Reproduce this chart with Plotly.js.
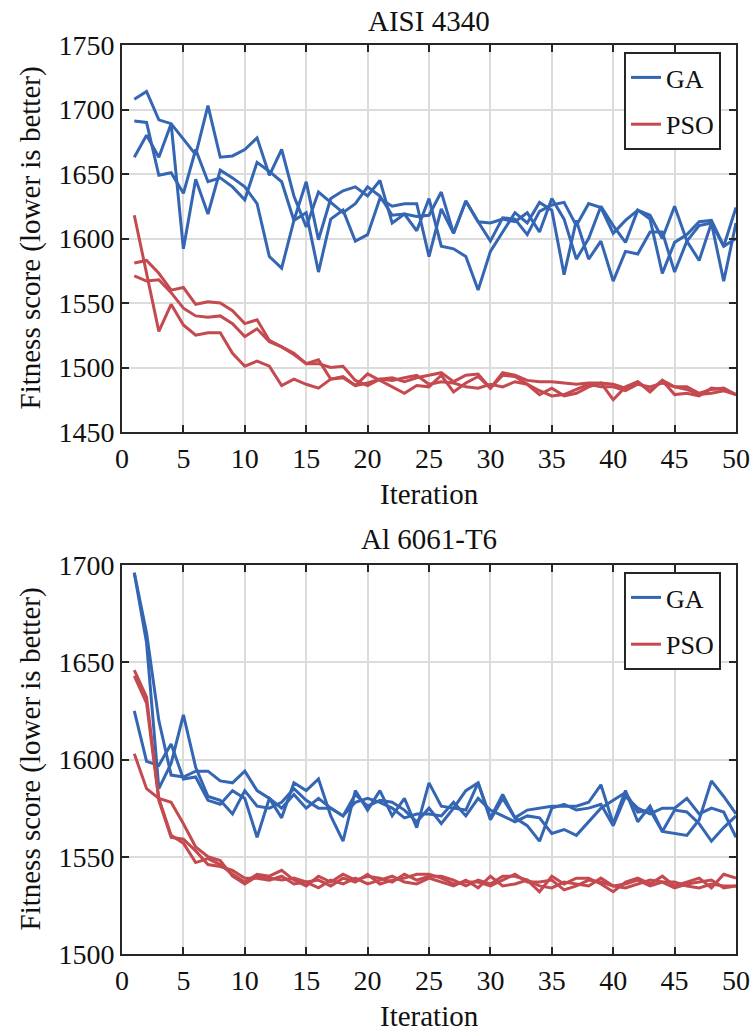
<!DOCTYPE html>
<html>
<head>
<meta charset="utf-8">
<script src="https://cdn.plot.ly/plotly-3.0.1.min.js"></script>
<style>
.modebar-container, .modebar { display: none !important; }
</style>
</head>
<body style="margin:0;background:#ffffff">
<div id="top" style="width:755px;height:518px"></div>
<div id="bottom" style="width:755px;height:517px"></div>
<script>
// ---------------- data ----------------
const iterations = Array.from({length: 50}, (_, k) => k + 1);

const titleTop = 'AISI 4340';
const titleBottom = 'Al 6061-T6';
const xLabel = 'Iteration';
const yLabel = 'Fitness score (lower is better)';
const seriesNames = ['GA', 'PSO'];

// AISI 4340, GA runs
const ga4340_run1 = [1708,1714,1692,1689,1677,1665,1703,1663,1664,1669,1678,1649,1669,1633,1609,1636,1628,1620,1627,1640,1633,1618,1619,1617,
  1618,1636,1604,1629,1613,1598,1616,1615,1603,1621,1626,1628,1610,1627,1624,1604,1614,1622,1618,1600,1625,1598,1610,1612,1594,1624];
const ga4340_run2 = [1691,1690,1649,1651,1635,1669,1644,1647,1640,1630,1659,1652,1644,1614,1644,1599,1631,1637,1640,1633,1645,1612,1619,1606,
  1631,1594,1592,1586,1560,1590,1605,1620,1612,1628,1622,1572,1614,1584,1598,1567,1590,1588,1605,1605,1574,1598,1583,1612,1567,1612];
const ga4340_run3 = [1663,1680,1663,1689,1592,1646,1619,1653,1647,1640,1627,1586,1577,1614,1620,1574,1615,1622,1598,1603,1631,1625,1627,1627,
  1586,1623,1604,1629,1613,1612,1615,1613,1620,1605,1631,1615,1584,1600,1625,1610,1597,1622,1615,1573,1597,1603,1613,1614,1594,1600];

// AISI 4340, PSO runs
const pso4340_run1 = [1618,1573,1528,1549,1533,1525,1527,1527,1511,1501,1505,1501,1486,1491,1487,1484,1491,1493,1486,1495,1490,1485,1480,1486,
  1485,1494,1481,1488,1493,1484,1494,1493,1487,1479,1484,1478,1480,1485,1488,1475,1485,1489,1481,1490,1479,1480,1478,1484,1483,1479];
const pso4340_run2 = [1581,1583,1573,1560,1562,1549,1551,1550,1544,1534,1537,1521,1516,1511,1503,1506,1491,1492,1486,1488,1491,1492,1489,1492,
  1494,1496,1489,1494,1495,1484,1496,1494,1490,1489,1489,1488,1487,1488,1488,1487,1484,1489,1482,1490,1485,1485,1480,1483,1484,1479];
const pso4340_run3 = [1571,1567,1568,1558,1546,1540,1539,1540,1534,1524,1530,1520,1516,1510,1503,1503,1500,1501,1490,1486,1491,1490,1492,1494,
  1487,1489,1488,1485,1484,1487,1485,1489,1487,1482,1478,1479,1483,1487,1485,1485,1482,1487,1485,1488,1485,1483,1479,1480,1482,1479];

// Al 6061-T6, GA runs
const ga6061_run1 = [1696,1665,1620,1592,1591,1594,1594,1589,1588,1594,1584,1580,1570,1588,1584,1590,1571,1558,1584,1574,1584,1571,1580,1565,
  1588,1576,1575,1574,1588,1570,1582,1570,1574,1575,1576,1576,1576,1578,1587,1567,1584,1568,1576,1563,1562,1561,1569,1589,1581,1572];
const ga6061_run2 = [1696,1660,1585,1598,1623,1596,1581,1579,1572,1584,1576,1575,1578,1585,1579,1575,1575,1571,1582,1576,1579,1578,1574,1568,
  1575,1567,1575,1584,1588,1569,1580,1570,1566,1558,1575,1577,1574,1575,1577,1566,1581,1575,1572,1575,1575,1580,1572,1575,1573,1560];
const ga6061_run3 = [1625,1599,1597,1608,1590,1591,1579,1577,1584,1580,1560,1580,1575,1582,1575,1580,1575,1571,1578,1580,1578,1575,1570,1572,
  1572,1571,1578,1571,1580,1574,1571,1568,1571,1570,1562,1564,1561,1568,1575,1579,1583,1573,1574,1563,1574,1573,1567,1558,1565,1571];

// Al 6061-T6, PSO runs
const pso6061_run1 = [1646,1632,1580,1561,1557,1547,1549,1546,1541,1537,1541,1540,
  1543,1538,1535,1540,1537,1541,1538,1540,1539,1537,1541,1538,1540,1540,1538,1535,1538,1536,1540,1540,1538,1532,1540,1536,1539,1539,1536,1532,1537,1539,1536,1540,1535,1537,1539,1534,1541,1539];
const pso6061_run2 = [1643,1629,1579,1560,1559,1553,1546,1545,1543,1539,1539,1538,
  1540,1536,1537,1534,1538,1536,1539,1536,1538,1540,1537,1536,1539,1537,1535,1538,1534,1540,1535,1536,1538,1535,1534,1537,1536,1535,1539,1535,1536,1538,1535,1537,1537,1535,1534,1536,1535,1535];
const pso6061_run3 = [1603,1585,1580,1578,1567,1555,1550,1548,1540,1536,1540,1539,
  1538,1539,1537,1538,1535,1539,1537,1541,1536,1538,1539,1541,1541,1539,1536,1537,1537,1535,1538,1541,1537,1537,1538,1533,1535,1538,1537,1535,1534,1536,1538,1537,1534,1536,1537,1538,1534,1535];

const xTicks = [0,5,10,15,20,25,30,35,40,45,50];
const yTicksTop = [1450,1500,1550,1600,1650,1700,1750];
const yTicksBottom = [1500,1550,1600,1650,1700];

// ---------------- styling ----------------
const BLUE = '#3466b3';
const RED = '#c44a50';
const AX = '#262626';
const TXT = '#111111';

function mkTrace(y, color, name, show) {
  return {
    x: iterations, y: y, type: 'scatter', mode: 'lines',
    line: {color: color, width: 3},
    name: name, legendgroup: name, showlegend: show
  };
}

function mkLayout(h, t, b, yRange, yTicks, title, legendTopPx) {
  const plotH = h - t - b;
  const plotW = 755 - 122 - 19;
  const tickFont = {family: 'Liberation Serif', size: 28, color: TXT};
  const labFont = {family: 'Liberation Serif', size: 29, color: TXT};
  return {
    width: 755, height: h,
    font: {family: 'Liberation Serif', size: 28, color: TXT},
    margin: {l: 122, r: 19, t: t, b: b, pad: 0},
    paper_bgcolor: '#ffffff', plot_bgcolor: '#ffffff',
    showlegend: true,
    xaxis: {
      range: [0, 50], tickvals: xTicks,
      ticks: 'inside', ticklen: 7, tickwidth: 2, tickcolor: AX,
      showline: true, linewidth: 2, linecolor: AX, mirror: 'allticks',
      showgrid: true, gridcolor: '#dcdcdc', gridwidth: 2, zeroline: false,
      tickfont: tickFont
    },
    yaxis: {
      range: yRange, tickvals: yTicks,
      ticks: 'inside', ticklen: 7, tickwidth: 2, tickcolor: AX,
      showline: true, linewidth: 2, linecolor: AX, mirror: 'allticks',
      showgrid: true, gridcolor: '#dcdcdc', gridwidth: 2, zeroline: false,
      tickfont: tickFont
    },
    legend: {
      x: (721 - 122) / plotW, y: (plotH - (legendTopPx - t)) / plotH,
      xanchor: 'right', yanchor: 'top',
      bgcolor: '#ffffff', bordercolor: AX, borderwidth: 2,
      font: {family: 'Liberation Serif', size: 26, color: TXT}
    },
    annotations: [
      {text: title, xref: 'paper', yref: 'paper', x: 0.5, y: (plotH + t - 21) / plotH, xanchor: 'center', yanchor: 'middle', showarrow: false, font: labFont},
      {text: xLabel, xref: 'paper', yref: 'paper', x: 0.5, y: -(62) / plotH, xanchor: 'center', yanchor: 'middle', showarrow: false, font: labFont},
      {text: yLabel, xref: 'paper', yref: 'paper', x: (30 - 122) / plotW, y: 0.5, xanchor: 'center', yanchor: 'middle', textangle: -90, showarrow: false, font: labFont}
    ]
  };
}

const dataTop = [
  mkTrace(ga4340_run1, BLUE, seriesNames[0], true),
  mkTrace(ga4340_run2, BLUE, seriesNames[0], false),
  mkTrace(ga4340_run3, BLUE, seriesNames[0], false),
  mkTrace(pso4340_run1, RED, seriesNames[1], true),
  mkTrace(pso4340_run2, RED, seriesNames[1], false),
  mkTrace(pso4340_run3, RED, seriesNames[1], false)
];
const dataBottom = [
  mkTrace(ga6061_run1, BLUE, seriesNames[0], true),
  mkTrace(ga6061_run2, BLUE, seriesNames[0], false),
  mkTrace(ga6061_run3, BLUE, seriesNames[0], false),
  mkTrace(pso6061_run1, RED, seriesNames[1], true),
  mkTrace(pso6061_run2, RED, seriesNames[1], false),
  mkTrace(pso6061_run3, RED, seriesNames[1], false)
];

Plotly.newPlot('top', dataTop, mkLayout(518, 45, 86, [1450, 1750], yTicksTop, titleTop, 52));
Plotly.newPlot('bottom', dataBottom, mkLayout(517, 47, 81, [1500, 1700], yTicksBottom, titleBottom, 54));
</script>
</body>
</html>
